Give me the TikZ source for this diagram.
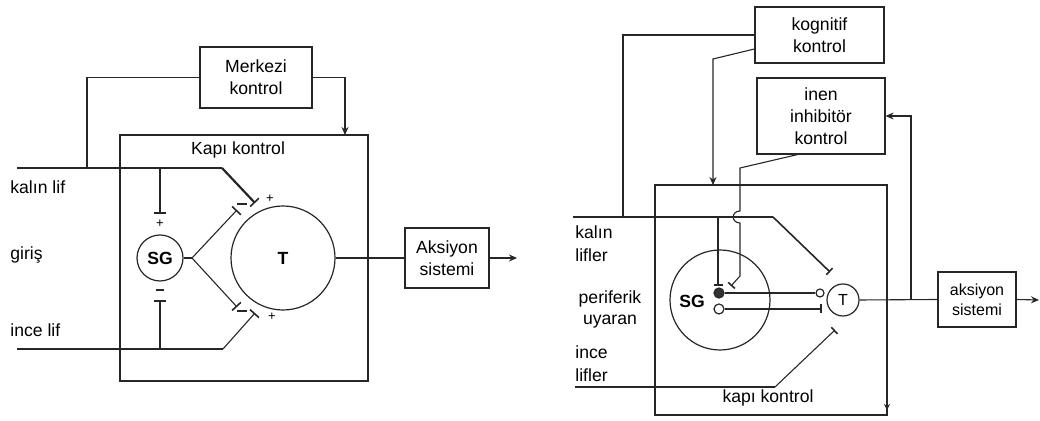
\documentclass[tikz,border=0pt]{standalone}
\usepackage{fontspec}
\setmainfont{Liberation Sans}
\usetikzlibrary{arrows.meta,calc}
\begin{document}
\begin{tikzpicture}[x=0.5pt,y=-0.5pt,
  ln/.style={draw=black!85,line width=0.55pt},
  thick ln/.style={draw=black!85,line width=1.1pt},
  box/.style={draw=black!85,line width=0.6pt,inner sep=0pt,align=center,font=\fontsize{8.8}{11}\selectfont},
  lbl/.style={inner sep=0pt,font=\fontsize{8.8}{11}\selectfont,align=left},
  sgn/.style={inner sep=0pt,font=\fontsize{6.5}{7}\selectfont},
  msgn/.style={draw=black!85,line width=0.8pt},
  circ/.style={draw=black!85,line width=0.6pt,circle,inner sep=0pt,font=\fontsize{8.8}{11}\selectfont\bfseries},
  bar/.style={-{Bar[width=6pt,line width=0.8pt]}},
  sbar/.style={-{Bar[width=4.5pt,line width=0.8pt]}},
  arr/.style={-{Stealth[length=4pt,width=3.5pt]}}
]
\useasboundingbox (0,0) rectangle (1040,421);
% ---------------- Left diagram ----------------
\node[box,minimum width=56pt,minimum height=30.5pt] (merk) at (256,77.5) {Merkezi\\kontrol};
\node[box,minimum width=124pt,minimum height=123pt] (kapiL) at (244,258) {};
\node[lbl] (kapiLt) at (238,150) {Kapı kontrol};
\node[box,minimum width=42pt,minimum height=30pt] (aksL) at (447,258) {Aksiyon\\sistemi};
\node[circ,minimum size=23pt] (sgL) at (160,258) {SG};
\node[circ,minimum size=52pt] (tL) at (283,258) {T};
\node[lbl,anchor=west] (l1) at (10,187) {kalın lif};
\node[lbl,anchor=west] (l2) at (10,255) {giriş};
\node[lbl,anchor=west] (l3) at (10,330) {ince lif};
\coordinate (jL) at (87,168);
\coordinate (kbL) at (222,168);
\coordinate (ibL) at (223,349);
\coordinate (fork) at (192,258);
\draw[ln] (merk.west) -| (jL);
\draw[ln,arr] (merk.east) -| (345,135);
\draw[thick ln] (17,168) -- (kbL);
\draw[thick ln,bar] (kbL) -- (255,203);
\draw[thick ln,bar] (160,168) -- (160,214);
\draw[ln] (17,349) -- (ibL);
\draw[ln,bar] (ibL) -- (255,313);
\draw[ln,bar] (160,349) -- (160,300);
\draw[ln] (sgL.east) -- (fork);
\draw[ln,bar] (fork) -- (237,210);
\draw[ln,bar] (fork) -- (237,307);
\draw[ln] (tL.east) -- (aksL.west);
\draw[ln,arr] (aksL.east) -- (517,258);
\node[sgn] (p1) at (270,199) {+};
\node[sgn] (p2) at (160,224) {+};
\node[sgn] (p3) at (272,317) {+};
\draw[msgn] (237,204) -- (247,204);
\draw[msgn] (156,290) -- (164,290);
\draw[msgn] (237,311) -- (247,311);
% ---------------- Right diagram ----------------
\node[box,minimum width=64.5pt,minimum height=28pt] (kog) at (819.5,35) {kognitif\\kontrol};
\node[box,minimum width=64pt,minimum height=38pt] (inen) at (821,116) {inen\\inhibitör\\kontrol};
\node[box,minimum width=116pt,minimum height=115pt] (kapiR) at (771,300) {};
\node[lbl] (kapiRt) at (768,398) {kapı kontrol};
\node[box,minimum width=39pt,minimum height=27.5pt,font=\fontsize{8}{10}\selectfont] (aksR) at (977,299.5) {aksiyon\\sistemi};
\node[circ,minimum size=50pt] (sgR) at (720,300) {};
\node[lbl,font=\fontsize{8.8}{11}\selectfont\bfseries] (sgRt) at (692,301) {SG};
\node[circ,minimum size=16pt,font=\fontsize{8}{10}\selectfont] (tR) at (843,300) {T};
\node[circ,fill=black!80,minimum size=5pt] (dotF) at (719,293) {};
\node[circ,minimum size=5pt] (dotO) at (719,309) {};
\node[circ,minimum size=4pt] (oc) at (820,293) {};
\node[lbl,anchor=west] (r1) at (575,232) {kalın};
\node[lbl,anchor=west] (r2) at (575,255) {lifler};
\node[lbl] (r3) at (610,299) {periferik};
\node[lbl] (r4) at (610,322) {uyaran};
\node[lbl,anchor=west] (r5) at (575,352) {ince};
\node[lbl,anchor=west] (r6) at (575,375) {lifler};
\coordinate (jR) at (623,217);
\coordinate (kbR) at (773,217);
\coordinate (ibR) at (775,387);
\coordinate (oj) at (911,300);
\draw[ln] (kog.west) -| (jR);
\draw[ln,arr] ($(kog.west)+(0,14)$) -- (713,59) -- (713,185);
\draw[ln,sbar] (800,154) -- (740,168) -- (740,211) .. controls (731,211) and (731,223) .. (740,223) -- (740,276) -- (731,286);
\draw[ln,arr] (oj) |- (inen.east);
\draw[ln] (tR.east) -- (aksR.west);
\draw[ln,arr] (aksR.east) -- (1039,300);
\draw[ln,line width=0.8pt] (573,217) -- (kbR);
\draw[ln,line width=0.8pt,sbar] (kbR) -- (830,272);
\draw[ln,sbar] (718,217) -- (718,286);
\draw[ln,line width=0.8pt] (dotF) -- (oc);
\draw[ln,line width=0.8pt,sbar] (dotO) -- (822,309);
\draw[ln] (575,387) -- (ibR);
\draw[ln,sbar] (ibR) -- (835,330);
\draw[ln,-{Stealth[length=3pt,width=3pt]}] (887,395) -- (887,410);
\end{tikzpicture}
\end{document}
